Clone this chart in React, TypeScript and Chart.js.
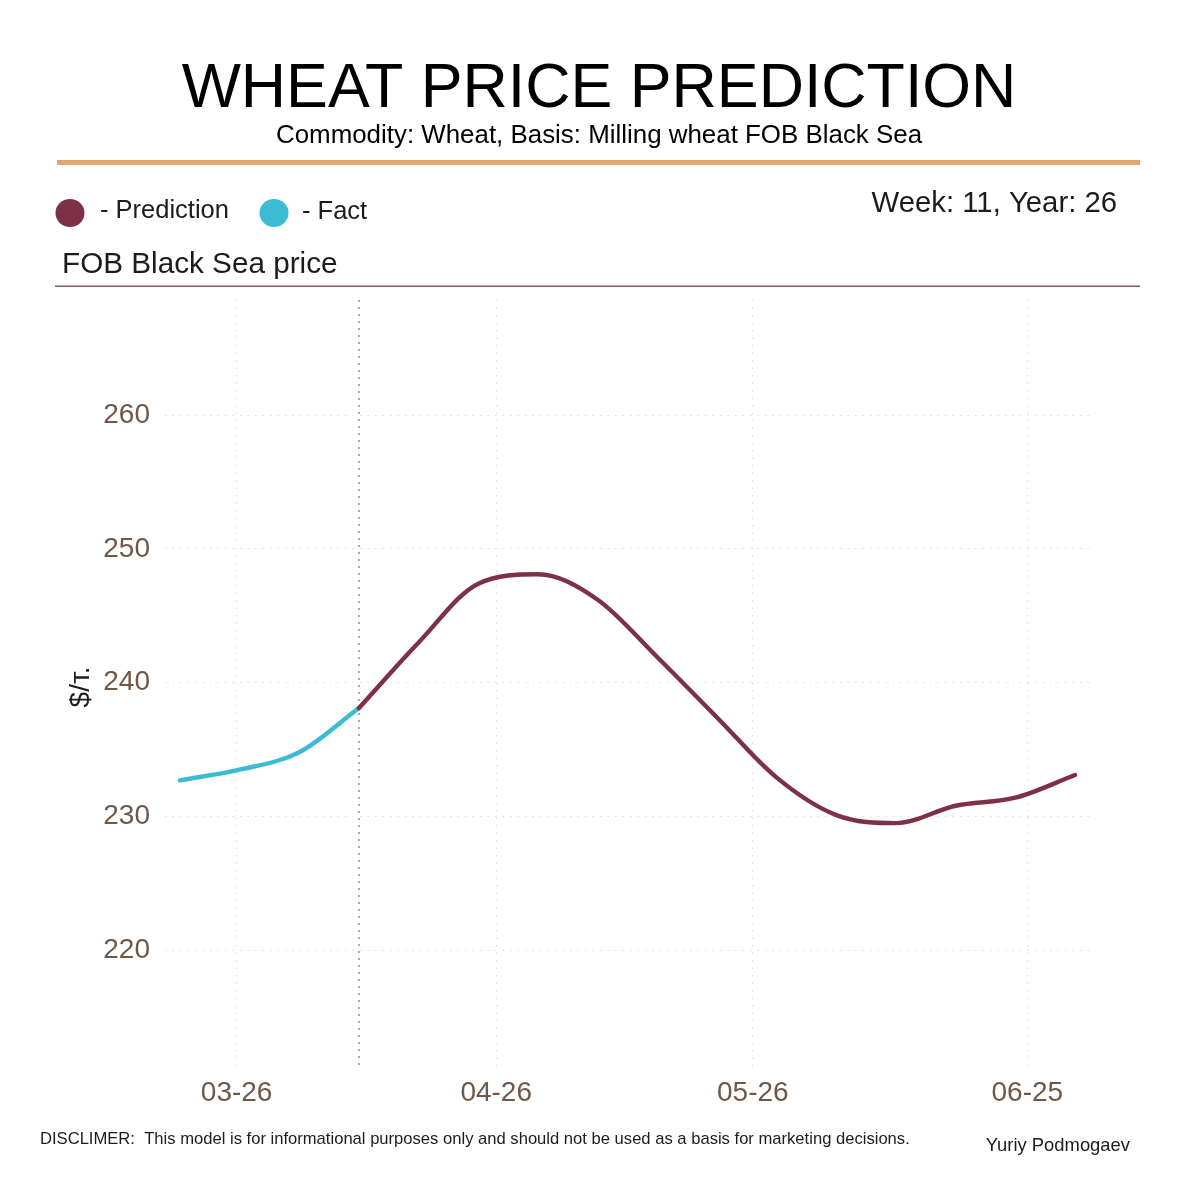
import React, { useEffect, useRef } from 'react';
import { Chart, registerables } from 'chart.js';

Chart.register(...registerables);

// ---- data ----
const FACT_X = [0, 1, 2, 3];
const FACT_Y = [232.7, 233.5, 234.8, 238.1];
const PRED_X = [3, 4, 5, 6, 7, 8, 9, 10, 11, 12, 13, 14, 15];
const PRED_Y = [238.1, 243.0, 247.4, 248.1, 246.2, 241.9, 237.4, 232.9, 230.1, 229.5, 230.8, 231.4, 233.1];
const X_TICK_POS = [0.95, 5.3, 9.6, 14.2];
const X_TICK_LABELS = ['03-26', '04-26', '05-26', '06-25'];
const Y_TICKS = [220, 230, 240, 250, 260];
const CURRENT_WEEK_X = 3;

const TITLE = 'WHEAT PRICE PREDICTION';
const SUBTITLE = 'Commodity: Wheat, Basis: Milling wheat FOB Black Sea';
const WEEK_TEXT = 'Week: 11, Year: 26';
const SECTION_TITLE = 'FOB Black Sea price';
const Y_TITLE = '$/т.';
const DISCLAIMER = 'DISCLIMER:  This model is for informational purposes only and should not be used as a basis for marketing decisions.';
const AUTHOR = 'Yuriy Podmogaev';

const PRED_COLOR = '#7C3146';
const FACT_COLOR = '#3CBCD2';
const TICK_COLOR = '#6F5848';
const TEXT_COLOR = '#1c1c1c';
const FONT = '"Liberation Sans", Arial, sans-serif';

const decoPlugin = {
  id: 'deco',
  beforeDraw(chart: any) {
    const ctx = chart.ctx;
    ctx.save();
    ctx.fillStyle = '#ffffff';
    ctx.fillRect(0, 0, chart.width, chart.height);
    ctx.restore();
  },
  beforeDatasetsDraw(chart: any) {
    const ctx = chart.ctx;
    const area = chart.chartArea;
    const x = chart.scales.x.getPixelForValue(CURRENT_WEEK_X);
    ctx.save();
    ctx.strokeStyle = '#ababab';
    ctx.lineWidth = 2;
    ctx.setLineDash([2, 5]);
    ctx.beginPath();
    ctx.moveTo(x, area.top);
    ctx.lineTo(x, area.bottom + 2);
    ctx.stroke();
    ctx.restore();
  },
  afterDraw(chart: any) {
    const ctx = chart.ctx;
    ctx.save();
    ctx.textBaseline = 'alphabetic';

    ctx.font = `62.7px ${FONT}`;
    ctx.textAlign = 'center';
    ctx.fillStyle = '#000';
    ctx.fillText(TITLE, 599, 107);

    ctx.font = `25.9px ${FONT}`;
    ctx.fillText(SUBTITLE, 599, 143);

    ctx.fillStyle = '#E2A76F';
    ctx.fillRect(57, 160, 1083, 5);

    // legend
    ctx.fillStyle = PRED_COLOR;
    ctx.beginPath();
    ctx.ellipse(70, 213, 14.5, 14, 0, 0, Math.PI * 2);
    ctx.fill();
    ctx.fillStyle = FACT_COLOR;
    ctx.beginPath();
    ctx.ellipse(274, 213, 14.5, 14, 0, 0, Math.PI * 2);
    ctx.fill();

    ctx.fillStyle = TEXT_COLOR;
    ctx.textAlign = 'left';
    ctx.font = `25.5px ${FONT}`;
    ctx.fillText('- Prediction', 100, 218);
    ctx.fillText('- Fact', 302, 219);

    ctx.textAlign = 'right';
    ctx.font = `29.3px ${FONT}`;
    ctx.fillText(WEEK_TEXT, 1117, 212);

    ctx.textAlign = 'left';
    ctx.font = `29.7px ${FONT}`;
    ctx.fillText(SECTION_TITLE, 62, 273);

    ctx.fillStyle = '#7b604f';
    ctx.fillRect(55, 285.5, 1085, 1.5);

    // y title
    ctx.fillStyle = TEXT_COLOR;
    ctx.save();
    ctx.translate(89, 687);
    ctx.rotate(-Math.PI / 2);
    ctx.textAlign = 'center';
    ctx.font = `28px ${FONT}`;
    ctx.fillText(Y_TITLE, 0, 0);
    ctx.restore();

    ctx.textAlign = 'left';
    ctx.font = `16.6px ${FONT}`;
    ctx.fillText(DISCLAIMER, 40, 1144);

    ctx.textAlign = 'right';
    ctx.font = `18.4px ${FONT}`;
    ctx.fillText(AUTHOR, 1130, 1151);

    ctx.restore();
  },
};

export default function App() {
  const canvasRef = useRef<HTMLCanvasElement | null>(null);

  useEffect(() => {
    if (!canvasRef.current) return;
    const chart = new Chart(canvasRef.current, {
      type: 'line',
      data: {
        datasets: [
          {
            label: 'Prediction',
            data: PRED_X.map((x, i) => ({ x, y: PRED_Y[i] })),
            borderColor: PRED_COLOR,
            backgroundColor: PRED_COLOR,
            borderWidth: 4.4,
            pointRadius: 0,
            borderCapStyle: 'round',
            cubicInterpolationMode: 'monotone',
          },
          {
            label: 'Fact',
            data: FACT_X.map((x, i) => ({ x, y: FACT_Y[i] })),
            borderColor: FACT_COLOR,
            backgroundColor: FACT_COLOR,
            borderWidth: 4.4,
            pointRadius: 0,
            borderCapStyle: 'round',
            cubicInterpolationMode: 'monotone',
          },
        ],
      },
      options: {
        responsive: false,
        animation: false,
        devicePixelRatio: 1,
        layout: { padding: { left: 0, right: 110, top: 300, bottom: 0 } },
        plugins: { legend: { display: false }, tooltip: { enabled: false } },
        scales: {
          x: {
            type: 'linear',
            min: -0.25,
            max: 15.25,
            afterBuildTicks: (scale: any) => {
              scale.ticks = X_TICK_POS.map((v) => ({ value: v }));
            },
            afterFit: (scale: any) => {
              scale.height = 132;
            },
            ticks: {
              autoSkip: false,
              maxRotation: 0,
              minRotation: 0,
              padding: 8,
              color: TICK_COLOR,
              font: { family: FONT, size: 28 },
              callback: (_v: any, i: number) => X_TICK_LABELS[i],
            },
            grid: { color: '#dcdcdc', lineWidth: 1, drawTicks: false },
            border: { display: false, dash: [1.5, 6] },
          },
          y: {
            type: 'linear',
            min: 211.2,
            max: 268.6,
            afterBuildTicks: (scale: any) => {
              scale.ticks = Y_TICKS.map((v) => ({ value: v }));
            },
            afterFit: (scale: any) => {
              scale.width = 165;
            },
            ticks: {
              padding: 15,
              color: TICK_COLOR,
              font: { family: FONT, size: 28 },
              callback: (v: any) => String(v),
            },
            grid: { color: '#dcdcdc', lineWidth: 1, drawTicks: false },
            border: { display: false, dash: [1.5, 6] },
          },
        },
      },
      plugins: [decoPlugin],
    } as any);
    return () => chart.destroy();
  }, []);

  return (
    <div style={{ position: 'absolute', left: 0, top: 0, width: 1200, height: 1200, background: '#fff' }}>
      <canvas ref={canvasRef} width={1200} height={1200} style={{ display: 'block', width: 1200, height: 1200 }} />
    </div>
  );
}
